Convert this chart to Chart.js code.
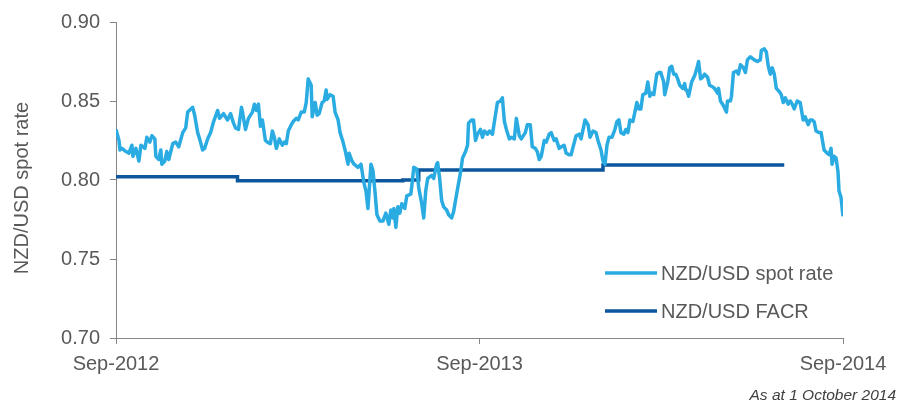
<!DOCTYPE html>
<html>
<head>
<meta charset="utf-8">
<script src="https://cdn.jsdelivr.net/npm/chart.js@4.4.1/dist/chart.umd.min.js"></script>
<style>
  body { margin: 0; background: #fff; }
  canvas { display: block; }
</style>
</head>
<body>
<canvas id="chart" width="911" height="405"></canvas>
<script>
// days counted from the start of Sep-2012
var spotDays = [0, 3, 4, 6, 10, 13, 16, 17, 20, 23, 25, 29, 31, 34, 36, 39, 40, 43, 45, 46, 49, 51, 53, 57, 60, 63, 67, 70, 72, 77, 79, 82, 84, 87, 89, 92, 95, 98, 102, 104, 108, 112, 115, 118, 120, 123,
  126, 127, 130, 133, 137, 139, 141, 143, 145, 147, 150, 152, 155, 157, 159, 161, 164, 167, 169, 171, 173, 176, 178, 181, 183, 186, 189, 191, 193, 196, 197, 200, 202, 204, 207, 209, 211, 212, 215, 218, 220, 223, 225, 228, 230, 233, 234, 237, 239, 243,
  246, 249, 251, 253, 256, 258, 260, 262, 265, 268, 271, 274, 276, 278, 279, 281, 283, 285, 287, 290, 292, 296, 297, 299, 302, 304, 307, 309, 311, 313, 317, 319, 322, 323, 325, 327, 329, 332, 334, 337, 339, 342, 344, 346, 348, 351, 353, 354, 357, 359, 361, 363,
  366, 368, 370, 373, 375, 378, 380, 383, 386, 388, 390, 392, 395, 397, 400, 402, 405, 407, 411, 413, 416, 418, 421, 423, 425, 427, 430, 432, 435, 437, 440, 442, 445, 447, 450, 452, 455, 457, 459, 462, 465, 467, 469, 471, 474, 476, 479, 482, 484, 487, 489,
  491, 493, 495, 498, 501, 503, 505, 507, 510, 512, 514, 516, 519, 521, 523, 525, 527, 529, 532, 534, 536, 538, 540, 543, 545, 547, 550, 551, 554, 556, 558, 560, 562, 564, 566, 569, 571, 572, 573, 575, 578, 581, 583, 585, 587, 589, 591, 594, 596, 599, 601, 604, 605, 607, 610,
  613, 614, 617, 618, 620, 623, 625, 627, 630, 632, 634, 637, 639, 641, 644, 647, 648, 651, 653, 655, 657, 659, 661, 663, 666, 668, 670, 672, 675, 677, 679, 681, 684, 687, 690, 692, 695, 697, 699, 701, 703, 706, 708, 711, 714, 716, 718, 719, 721, 723, 725, 726, 728, 730];
var spotRates = [0.832, 0.825, 0.819, 0.820, 0.818, 0.817, 0.822, 0.815, 0.820, 0.812, 0.822, 0.820, 0.827, 0.824, 0.828, 0.826, 0.815, 0.813, 0.819, 0.810, 0.812, 0.818, 0.813, 0.823, 0.824, 0.821, 0.830, 0.833, 0.843, 0.846, 0.841, 0.830, 0.826, 0.819, 0.820, 0.826, 0.830, 0.837, 0.844, 0.839, 0.842, 0.838, 0.842, 0.836, 0.833, 0.832,
  0.846, 0.843, 0.832, 0.839, 0.843, 0.848, 0.844, 0.848, 0.834, 0.838, 0.825, 0.824, 0.823, 0.831, 0.827, 0.820, 0.826, 0.822, 0.824, 0.823, 0.831, 0.835, 0.837, 0.839, 0.838, 0.843, 0.843, 0.849, 0.864, 0.860, 0.840, 0.849, 0.841, 0.842, 0.849, 0.850, 0.857, 0.851, 0.854, 0.853, 0.843, 0.838, 0.830, 0.824, 0.819, 0.810, 0.817, 0.812, 0.810, 0.808,
  0.810, 0.798, 0.793, 0.782, 0.810, 0.806, 0.793, 0.778, 0.774, 0.774, 0.779, 0.772, 0.781, 0.776, 0.782, 0.770, 0.783, 0.779, 0.785, 0.782, 0.790, 0.791, 0.796, 0.808, 0.807, 0.795, 0.785, 0.776, 0.793, 0.801, 0.803, 0.801, 0.810, 0.811, 0.801, 0.787, 0.783, 0.781, 0.778, 0.776, 0.780, 0.791, 0.798, 0.805, 0.814, 0.818, 0.822, 0.836, 0.838, 0.838, 0.825, 0.829,
  0.832, 0.827, 0.831, 0.829, 0.831, 0.829, 0.837, 0.849, 0.850, 0.852, 0.837, 0.832, 0.826, 0.827, 0.826, 0.839, 0.828, 0.826, 0.830, 0.835, 0.835, 0.821, 0.820, 0.818, 0.813, 0.815, 0.825, 0.824, 0.829, 0.830, 0.825, 0.826, 0.820, 0.821, 0.822, 0.817, 0.816, 0.816, 0.821, 0.828, 0.829, 0.826, 0.832, 0.838, 0.835, 0.827, 0.831, 0.830, 0.825, 0.819, 0.812,
  0.810, 0.822, 0.827, 0.827, 0.832, 0.837, 0.838, 0.830, 0.829, 0.832, 0.830, 0.838, 0.837, 0.843, 0.849, 0.845, 0.845, 0.854, 0.855, 0.862, 0.853, 0.855, 0.854, 0.867, 0.868, 0.868, 0.862, 0.854, 0.862, 0.871, 0.872, 0.867, 0.867, 0.864, 0.860, 0.858, 0.861, 0.857, 0.857, 0.853, 0.862, 0.866, 0.870, 0.875, 0.864, 0.865, 0.867, 0.865, 0.860, 0.859, 0.858, 0.855, 0.858, 0.850, 0.847,
  0.843, 0.850, 0.850, 0.853, 0.868, 0.869, 0.867, 0.873, 0.871, 0.868, 0.876, 0.878, 0.877, 0.876, 0.875, 0.876, 0.882, 0.883, 0.881, 0.872, 0.867, 0.871, 0.867, 0.858, 0.856, 0.854, 0.849, 0.852, 0.848, 0.850, 0.848, 0.845, 0.850, 0.849, 0.838, 0.840, 0.835, 0.838, 0.838, 0.837, 0.831, 0.830, 0.830, 0.819, 0.817, 0.816, 0.820, 0.810, 0.815, 0.814, 0.805, 0.793, 0.789, 0.777];

// FACR changes (stepped)
var facrDays = [0, 122, 288, 304, 489, 671];
var facrRates = [0.802, 0.7995, 0.800, 0.8064, 0.8095, 0.8095];

var tickDays = [0, 365, 730];
var tickLabels = ['Sep-2012', 'Sep-2013', 'Sep-2014'];

var textColor = '#595959';
var axisColor = '#868686';
var font = 'Liberation Sans, Arial, sans-serif';

function toPoints(xs, ys) {
    return xs.map(function (x, i) { return {x: x, y: ys[i]}; });
}

var extras = {
    id: 'extras',
    afterDraw: function (chart) {
        var ctx = chart.ctx;
        ctx.save();
        // y axis title
        ctx.fillStyle = textColor;
        ctx.font = '20px ' + font;
        ctx.textAlign = 'center';
        ctx.textBaseline = 'middle';
        ctx.translate(22, 188);
        ctx.rotate(-Math.PI / 2);
        ctx.fillText('NZD/USD spot rate', 0, 0);
        ctx.restore();

        // legend inside the plot
        ctx.save();
        var rows = [273, 311];
        chart.data.datasets.forEach(function (ds, i) {
            ctx.strokeStyle = ds.borderColor;
            ctx.lineWidth = 3.5;
            ctx.beginPath();
            ctx.moveTo(605, rows[i]);
            ctx.lineTo(657, rows[i]);
            ctx.stroke();
            ctx.fillStyle = textColor;
            ctx.font = '20px ' + font;
            ctx.textAlign = 'left';
            ctx.textBaseline = 'middle';
            ctx.fillText(ds.label, 661, rows[i] + 1);
        });

        // footnote
        ctx.fillStyle = '#404040';
        ctx.font = 'italic 15.5px ' + font;
        ctx.textAlign = 'right';
        ctx.textBaseline = 'alphabetic';
        ctx.fillText('As at 1 October 2014', 896, 400);
        ctx.restore();
    }
};

new Chart(document.getElementById('chart'), {
    type: 'line',
    data: {
        datasets: [
            {
                label: 'NZD/USD spot rate',
                data: toPoints(spotDays, spotRates),
                borderColor: '#2aace2',
                borderWidth: 3.5,
                borderJoinStyle: 'round',
                pointRadius: 0,
                tension: 0
            },
            {
                label: 'NZD/USD FACR',
                data: toPoints(facrDays, facrRates),
                borderColor: '#0b569c',
                borderWidth: 3.5,
                pointRadius: 0,
                stepped: true
            }
        ]
    },
    options: {
        responsive: false,
        animation: false,
        layout: {padding: {top: 19, right: 68, bottom: 0, left: 0}},
        plugins: {legend: {display: false}, tooltip: {enabled: false}},
        scales: {
            x: {
                type: 'linear',
                min: 0,
                max: 730,
                afterBuildTicks: function (scale) {
                    scale.ticks = tickDays.map(function (d) { return {value: d}; });
                },
                afterFit: function (scale) { scale.height = 67; },
                ticks: {
                    autoSkip: false,
                    maxRotation: 0,
                    padding: 8,
                    color: textColor,
                    font: {family: font, size: 20},
                    callback: function (v) { return tickLabels[tickDays.indexOf(v)]; }
                },
                grid: {drawOnChartArea: false, drawTicks: true, tickLength: 6, color: axisColor},
                border: {color: axisColor, width: 1}
            },
            y: {
                min: 0.70,
                max: 0.90,
                afterFit: function (scale) { scale.width = 116; },
                ticks: {
                    stepSize: 0.05,
                    padding: 10,
                    color: textColor,
                    font: {family: font, size: 20},
                    callback: function (v) { return v.toFixed(2); }
                },
                grid: {drawOnChartArea: false, drawTicks: true, tickLength: 6, color: axisColor},
                border: {color: axisColor, width: 1}
            }
        }
    },
    plugins: [extras]
});
</script>
</body>
</html>
